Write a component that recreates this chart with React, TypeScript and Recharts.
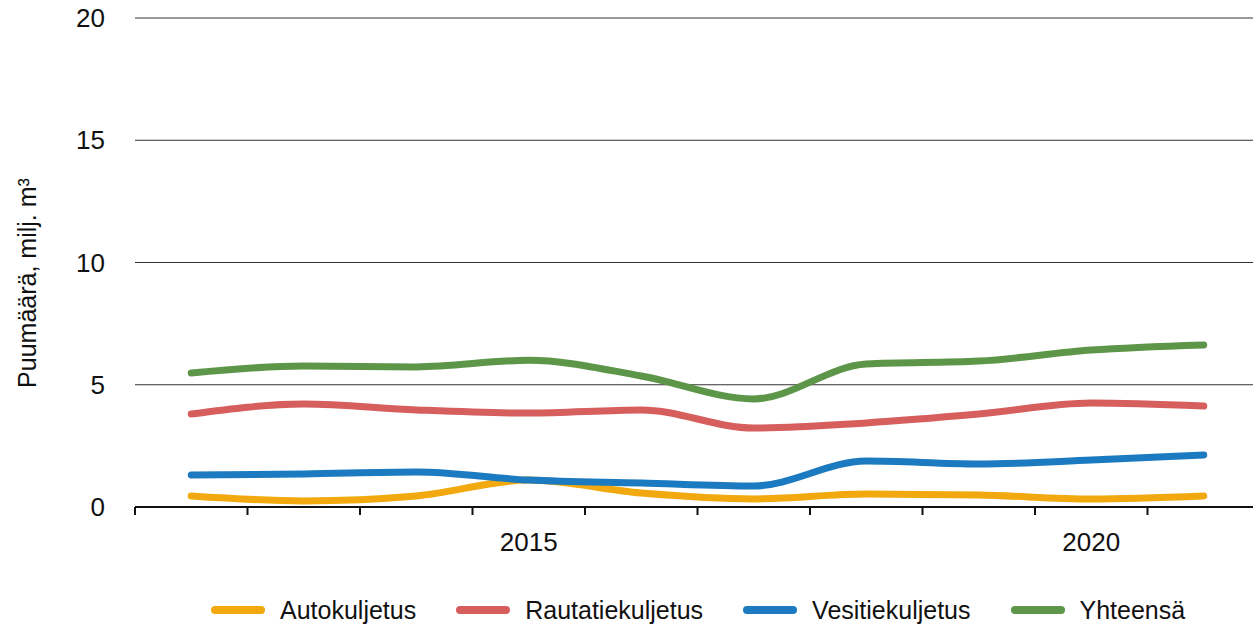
import React from "react";
import { LineChart, Line, XAxis, YAxis, CartesianGrid } from "recharts";

const years = [2012, 2013, 2014, 2015, 2016, 2017, 2018, 2019, 2020, 2021];
const autokuljetus = [0.45, 0.25, 0.45, 1.1, 0.57, 0.33, 0.53, 0.49, 0.33, 0.45];
const rautatiekuljetus = [3.8, 4.21, 3.97, 3.84, 3.97, 3.23, 3.44, 3.8, 4.25, 4.13];
const vesitiekuljetus = [1.31, 1.35, 1.43, 1.1, 0.98, 0.86, 1.88, 1.76, 1.92, 2.13];
const yhteensa = [5.48, 5.77, 5.73, 6.0, 5.36, 4.42, 5.85, 5.97, 6.42, 6.63];

const yTicks = [0, 5, 10, 15, 20];
const xLabelTicks = [2015, 2020];
const bandEdges = [2011.5, 2012.5, 2013.5, 2014.5, 2015.5, 2016.5, 2017.5, 2018.5, 2019.5, 2020.5, 2021.5];

const seriesNames = ["Autokuljetus", "Rautatiekuljetus", "Vesitiekuljetus", "Yhteensä"];
const seriesKeys = ["auto", "rauta", "vesi", "yht"];
const seriesColors = ["#F1A90F", "#D65F5E", "#1C7BC0", "#5D9649"];

const data = years.map((y, i) => ({
  year: y,
  auto: autokuljetus[i],
  rauta: rautatiekuljetus[i],
  vesi: vesitiekuljetus[i],
  yht: yhteensa[i],
}));

const FONT = "'Liberation Sans', Arial, sans-serif";

export default function App() {
  return (
    <div
      style={{
        position: "relative",
        width: 1253,
        height: 624,
        overflow: "hidden",
        background: "#fff",
        fontFamily: FONT,
      }}
    >
      <style>{`html,body{margin:0;padding:0;overflow:hidden;}`}</style>
      <LineChart
        width={1265}
        height={624}
        data={data}
        margin={{ top: 18, right: 5, left: 0, bottom: 67 }}
      >
        <CartesianGrid vertical={false} stroke="#333" strokeWidth={1} />
        <YAxis
          domain={[0, 20]}
          ticks={yTicks}
          width={135}
          axisLine={false}
          tickLine={false}
          tickSize={0}
          tickMargin={30}
          interval={0}
          tick={{ fontSize: 26, fill: "#111", fontFamily: FONT }}
          label={{
            content: () => (
              <text
                transform="translate(36,283) rotate(-90)"
                textAnchor="middle"
                fontSize={25}
                fill="#111"
                fontFamily={FONT}
              >
                Puumäärä, milj. m³
              </text>
            ),
          }}
        />
        <XAxis
          dataKey="year"
          type="number"
          domain={[2011.5, 2021.5]}
          ticks={bandEdges}
          interval={0}
          height={10}
          axisLine={{ stroke: "#111", strokeWidth: 2 }}
          tickLine={{ stroke: "#111", strokeWidth: 2 }}
          tickSize={8}
          tickFormatter={() => ""}
        />
        <XAxis
          xAxisId="lab"
          dataKey="year"
          type="number"
          domain={[2011.5, 2021.5]}
          ticks={xLabelTicks}
          interval={0}
          height={40}
          axisLine={false}
          tickLine={false}
          tickSize={0}
          tickMargin={16}
          tick={{ fontSize: 26, fill: "#111", fontFamily: FONT }}
        />
        {seriesKeys.map((k, i) => (
          <Line
            key={k}
            dataKey={k}
            type="monotone"
            stroke={seriesColors[i]}
            strokeWidth={7}
            strokeLinecap="round"
            dot={false}
            activeDot={false}
            isAnimationActive={false}
          />
        ))}
      </LineChart>
      <div
        style={{
          position: "absolute",
          left: 211,
          top: 596,
          height: 28,
          display: "flex",
          alignItems: "center",
          fontSize: 25,
          lineHeight: "28px",
          color: "#111",
          fontFamily: FONT,
        }}
      >
        {seriesNames.map((n, i) => (
          <div key={n} style={{ display: "flex", alignItems: "center", marginRight: 40 }}>
            <div
              style={{
                width: 54,
                height: 8,
                borderRadius: 4,
                background: seriesColors[i],
                marginRight: 15,
              }}
            />
            <span>{n}</span>
          </div>
        ))}
      </div>
    </div>
  );
}
